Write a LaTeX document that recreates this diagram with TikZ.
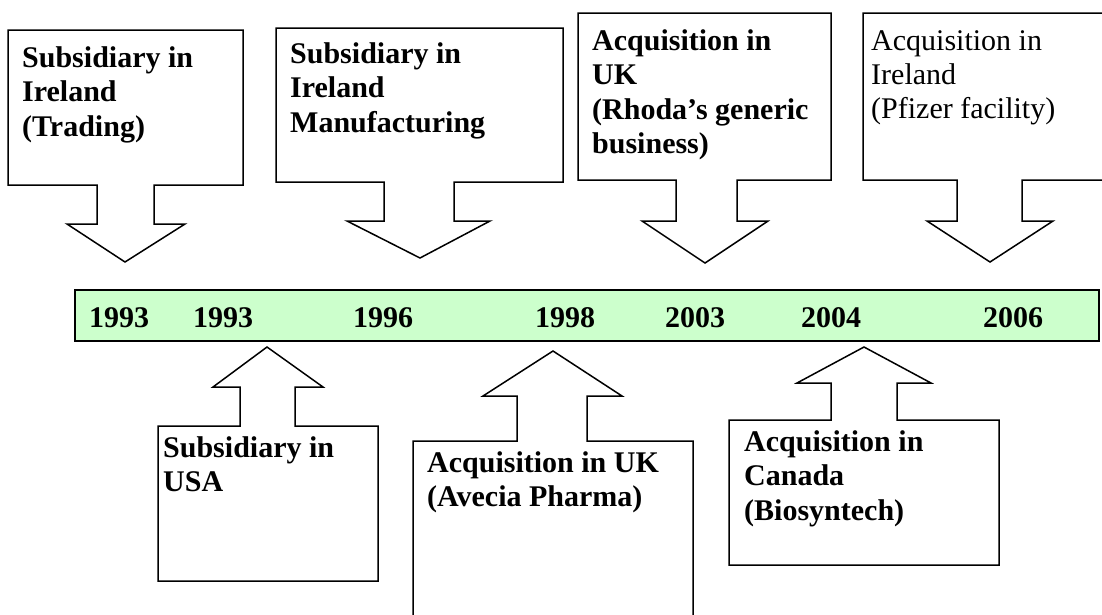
\documentclass[tikz,border=0pt]{standalone}
\usepackage{fontspec}
\setmainfont{Liberation Serif}
\definecolor{barfill}{HTML}{CCFFCC}
\begin{document}
\begin{tikzpicture}[x=1pt,y=-1pt,
  callout/.style={draw=black,line width=1.5pt,fill=white,line join=miter},
  lbl/.style={font=\fontsize{30}{34.5}\selectfont\bfseries,align=left,anchor=base west,inner sep=0pt},
  lblr/.style={font=\fontsize{30}{34}\selectfont,align=left,anchor=base west,inner sep=0pt},
  yr/.style={font=\fontsize{30}{34}\selectfont\bfseries,anchor=base,inner sep=0pt},
  bar/.style={draw=black,line width=2pt,fill=barfill}]
\useasboundingbox (0,0) rectangle (1102,614);
\clip (0,0) rectangle (1102,614);
% top callouts
\draw[callout] (8,30) -- (243,30) -- (243,185) -- (154,185) -- (154,224) -- (185,224) -- (125,262) -- (67,224) -- (97,224) -- (97,185) -- (8,185) -- cycle;
\draw[callout] (276,28) -- (563,28) -- (563,182) -- (454,182) -- (454,221) -- (490,221) -- (420,258) -- (347,221) -- (384,221) -- (384,182) -- (276,182) -- cycle;
\draw[callout] (578,13) -- (831,13) -- (831,180) -- (737,180) -- (737,221) -- (768,221) -- (705,263) -- (642,221) -- (676,221) -- (676,180) -- (578,180) -- cycle;
\draw[callout] (863,13) -- (1112,13) -- (1112,180) -- (1022,180) -- (1022,221) -- (1053,221) -- (990,262) -- (927,221) -- (957,221) -- (957,180) -- (863,180) -- cycle;
% bottom callouts
\draw[callout] (158,581) -- (378,581) -- (378,426) -- (295,426) -- (295,387) -- (323,387) -- (267,347) -- (213,387) -- (240,387) -- (240,426) -- (158,426) -- cycle;
\draw[callout] (413,625) -- (693,625) -- (693,441) -- (587,441) -- (587,396) -- (622,396) -- (553,351) -- (483,396) -- (517,396) -- (517,441) -- (413,441) -- cycle;
\draw[callout] (729,565) -- (999,565) -- (999,420) -- (897,420) -- (897,383) -- (931,383) -- (864,347) -- (797,383) -- (831,383) -- (831,420) -- (729,420) -- cycle;
% timeline bar
\draw[bar] (75,290) rectangle (1099,341);
\node[yr] (y1) at (119,327) {1993};
\node[yr] (y2) at (223,327) {1993};
\node[yr] (y3) at (383,327) {1996};
\node[yr] (y4) at (565,327) {1998};
\node[yr] (y5) at (695,327) {2003};
\node[yr] (y6) at (831,327) {2004};
\node[yr] (y7) at (1013,327) {2006};
% texts (anchor = baseline of last line)
\node[lbl] (t1) at (22,136) {Subsidiary in\\Ireland\\(Trading)};
\node[lbl] (t2) at (290,132) {Subsidiary in\\Ireland\\Manufacturing};
\node[lbl] (t3) at (592,153.5) {Acquisition in\\UK\\(Rhoda’s generic\\business)};
\node[lblr] (t4) at (871,118) {Acquisition in\\Ireland\\(Pfizer facility)};
\node[lbl] (t5) at (163,491.5) {Subsidiary in\\USA};
\node[lbl] (t6) at (427,506.5) {Acquisition in UK\\(Avecia Pharma)};
\node[lbl] (t7) at (744,520) {Acquisition in\\Canada\\(Biosyntech)};
\end{tikzpicture}
\end{document}
